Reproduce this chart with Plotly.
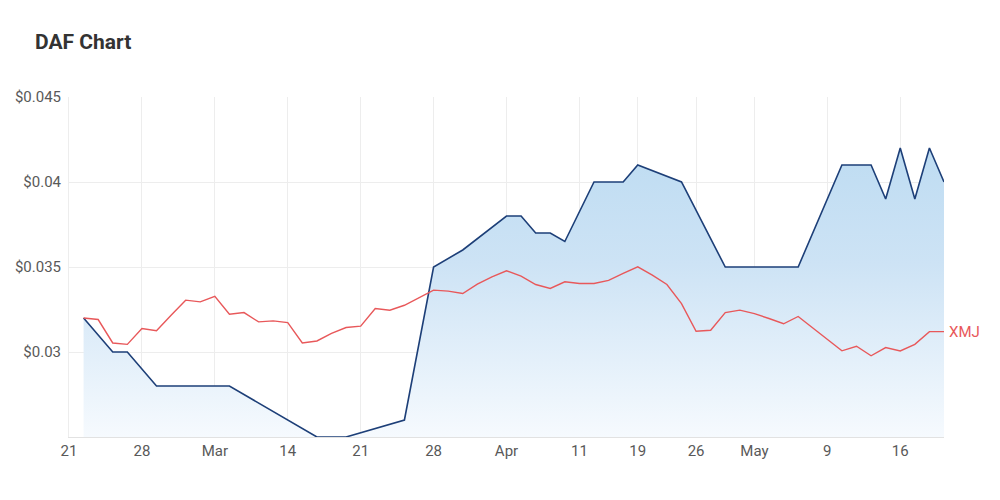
import plotly.graph_objects as go

# Trading days (ASX, 2022) shown on the ordinal x axis
trading_days = [
    "2022-02-21", "2022-02-22", "2022-02-23", "2022-02-24", "2022-02-25",
    "2022-02-28", "2022-03-01", "2022-03-02", "2022-03-03", "2022-03-04",
    "2022-03-07", "2022-03-08", "2022-03-09", "2022-03-10", "2022-03-11",
    "2022-03-14", "2022-03-15", "2022-03-16", "2022-03-17", "2022-03-18",
    "2022-03-21", "2022-03-22", "2022-03-23", "2022-03-24", "2022-03-25",
    "2022-03-28", "2022-03-29", "2022-03-30", "2022-03-31", "2022-04-01",
    "2022-04-04", "2022-04-05", "2022-04-06", "2022-04-07", "2022-04-08",
    "2022-04-11", "2022-04-12", "2022-04-13", "2022-04-14",
    "2022-04-19", "2022-04-20", "2022-04-21", "2022-04-22",
    "2022-04-26", "2022-04-27", "2022-04-28", "2022-04-29",
    "2022-05-02", "2022-05-03", "2022-05-04", "2022-05-05", "2022-05-06",
    "2022-05-09", "2022-05-10", "2022-05-11", "2022-05-12", "2022-05-13",
    "2022-05-16", "2022-05-17", "2022-05-18", "2022-05-19",
]

# DAF close prices (only days with trades)
daf_dates = [
    "2022-02-22", "2022-02-24", "2022-02-25", "2022-03-01", "2022-03-08",
    "2022-03-16", "2022-03-18", "2022-03-24", "2022-03-28", "2022-03-30",
    "2022-04-04", "2022-04-05", "2022-04-06", "2022-04-07", "2022-04-08",
    "2022-04-12", "2022-04-14", "2022-04-19", "2022-04-22", "2022-04-28",
    "2022-05-05", "2022-05-10", "2022-05-12", "2022-05-13", "2022-05-16",
    "2022-05-17", "2022-05-18", "2022-05-19",
]
daf_values = [
    0.032, 0.030, 0.030, 0.028, 0.028,
    0.025, 0.025, 0.026, 0.035, 0.036,
    0.038, 0.038, 0.037, 0.037, 0.0365,
    0.040, 0.040, 0.041, 0.040, 0.035,
    0.035, 0.041, 0.041, 0.039, 0.042,
    0.039, 0.042, 0.040,
]

# XMJ index rebased to DAF start (every trading day from 2022-02-22)
xmj_values = [
    0.03200, 0.03191, 0.03053, 0.03045, 0.03138, 0.03125, 0.03216, 0.03305,
    0.03295, 0.03328, 0.03222, 0.03232, 0.03177, 0.03183, 0.03173, 0.03053,
    0.03065, 0.03109, 0.03144, 0.03152, 0.03256, 0.03246, 0.03275, 0.03318,
    0.03364, 0.03358, 0.03344, 0.03399, 0.03442, 0.03478, 0.03446, 0.03397,
    0.03374, 0.03413, 0.03403, 0.03403, 0.03421, 0.03462, 0.03501, 0.03452,
    0.03397, 0.03285, 0.03122, 0.03128, 0.03232, 0.03246, 0.03226, 0.03197,
    0.03166, 0.03209, 0.03143, 0.03075, 0.03007, 0.03034, 0.02978, 0.03026,
    0.03006, 0.03045, 0.03120, 0.03120,
]
xmj_dates = trading_days[1:]

# X tick labels
x_tick_dates = ["2022-02-21", "2022-02-28", "2022-03-07", "2022-03-14", "2022-03-21",
                "2022-03-28", "2022-04-04", "2022-04-11", "2022-04-19", "2022-04-26",
                "2022-05-02", "2022-05-09", "2022-05-16"]
x_tick_labels = ["21", "28", "Mar", "14", "21", "28", "Apr", "11", "19", "26", "May", "9", "16"]

# Y ticks
y_tick_values = [0.03, 0.035, 0.04, 0.045]
y_tick_labels = ["$0.03", "$0.035", "$0.04", "$0.045"]

pos = {d: i for i, d in enumerate(trading_days)}
daf_x = [pos[d] for d in daf_dates]
xmj_x = [pos[d] for d in xmj_dates]
tick_x = [pos[d] for d in x_tick_dates]

fig = go.Figure()

fig.add_trace(go.Scatter(
    x=daf_x, y=daf_values, mode="lines", name="DAF",
    line=dict(color="#1d3f78", width=1.6),
    fill="tozeroy",
    fillgradient=dict(
        type="vertical", start=0.025, stop=0.042,
        colorscale=[[0, "rgba(246,250,254,1)"], [0.6, "rgba(205,227,245,1)"], [1, "rgba(190,220,242,1)"]],
    ),
    hoverinfo="skip",
))

fig.add_trace(go.Scatter(
    x=xmj_x, y=xmj_values, mode="lines", name="XMJ",
    line=dict(color="#e8585a", width=1.4),
    hoverinfo="skip",
))

fig.add_annotation(
    x=xmj_x[-1], y=xmj_values[-1], text="XMJ", showarrow=False,
    xanchor="left", yanchor="middle", xshift=3,
    font=dict(family="Roboto", size=15, color="#e8585a"),
)

fig.update_layout(
    width=1000, height=500,
    margin=dict(l=69, r=56, t=97, b=63),
    paper_bgcolor="white", plot_bgcolor="white",
    showlegend=False,
    title=dict(
        text="<b>DAF Chart</b>", x=0.035, xref="container", xanchor="left",
        y=1 - 42 / 500, yref="container", yanchor="middle",
        font=dict(family="Roboto", size=21, color="#333333"),
    ),
    xaxis=dict(
        range=[0, len(trading_days) - 1],
        tickmode="array", tickvals=tick_x, ticktext=x_tick_labels,
        showgrid=True, gridcolor="#ededed", gridwidth=1,
        showline=True, linecolor="#e2e2e2", linewidth=1,
        ticks="", zeroline=False,
        tickfont=dict(family="Roboto", size=15, color="#595959"),
        fixedrange=True,
    ),
    yaxis=dict(
        range=[0.025, 0.045],
        tickmode="array", tickvals=y_tick_values, ticktext=y_tick_labels,
        showgrid=True, gridcolor="#ededed", gridwidth=1,
        showline=True, linecolor="#ededed", linewidth=1,
        zeroline=False, ticks="", ticklabelstandoff=4,
        tickfont=dict(family="Roboto", size=15, color="#595959"),
        fixedrange=True,
    ),
)

fig.write_html("out.html")
